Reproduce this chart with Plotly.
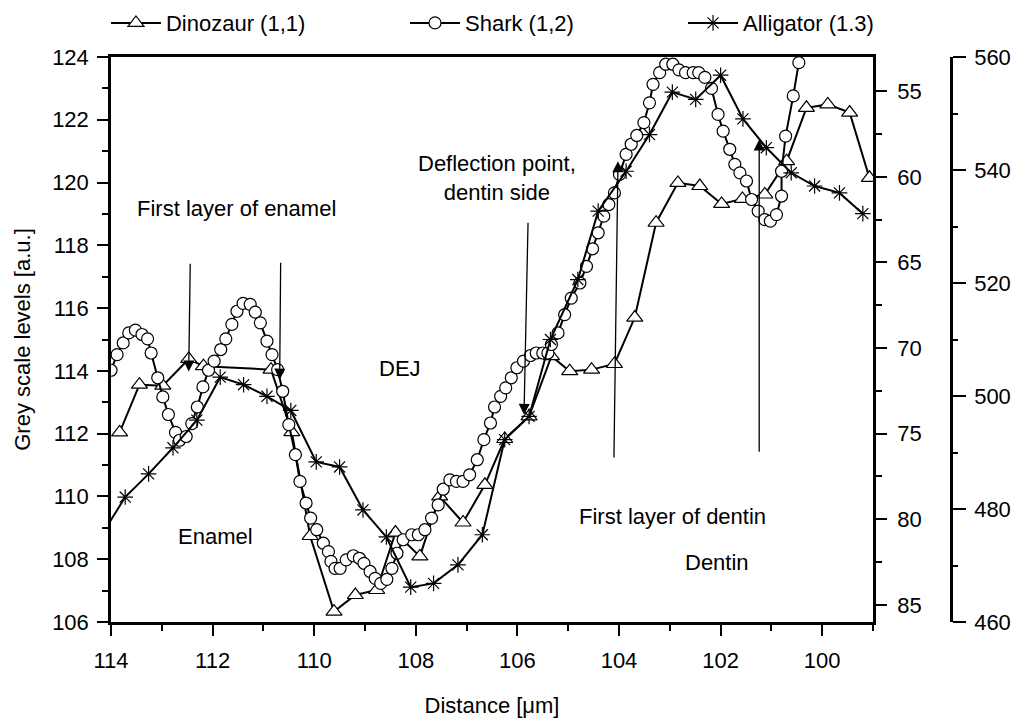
import plotly.graph_objects as go

# ---------------- data ----------------
dino_x = [113.83, 113.44, 112.98, 112.47, 112.18, 110.85, 110.44, 110.08, 109.61, 109.19,
          108.77, 108.40, 107.92, 107.53, 107.07, 106.64, 106.25, 105.77, 105.33, 104.97,
          104.54, 104.09, 103.69, 103.27, 102.84, 102.41, 101.98, 101.57, 101.13, 100.70,
          100.31, 99.89, 99.46, 99.07]
dino_y = [112.04, 113.56, 113.53, 114.38, 114.15, 114.04, 112.05, 108.74, 106.33, 106.86,
          107.02, 108.85, 108.09, 110.00, 109.17, 110.37, 111.83, 112.55, 114.47, 113.99,
          114.04, 114.22, 115.70, 118.72, 119.99, 119.89, 119.32, 119.48, 119.62, 120.68,
          122.38, 122.49, 122.23, 120.15]

shark_x = [114.00, 113.88, 113.76, 113.65, 113.52, 113.39, 113.28, 113.21, 113.08, 112.98,
           112.87, 112.73, 112.65, 112.52, 112.41, 112.30, 112.19, 112.08, 111.97, 111.84,
           111.74, 111.62, 111.52, 111.40, 111.26, 111.16, 111.06, 110.93, 110.83, 110.72,
           110.62, 110.50, 110.37, 110.28, 110.16, 110.07, 109.95, 109.82, 109.72, 109.67,
           109.59, 109.49, 109.37, 109.23, 109.11, 109.02, 108.90, 108.80, 108.69, 108.57,
           108.47, 108.37, 108.25, 108.08, 107.95, 107.82, 107.69, 107.56, 107.46, 107.33,
           107.20, 107.07, 106.94, 106.79, 106.66, 106.53, 106.45, 106.33, 106.23, 106.12,
           106.01, 105.88, 105.74, 105.63, 105.50, 105.40, 105.33, 105.20, 105.07, 104.94,
           104.77, 104.64, 104.52, 104.41, 104.30, 104.20, 104.09, 103.99, 103.86, 103.76,
           103.65, 103.51, 103.40, 103.33, 103.20, 103.08, 102.94, 102.82, 102.69, 102.54,
           102.43, 102.31, 102.18, 102.05, 101.95, 101.82, 101.72, 101.62, 101.49, 101.39,
           101.26, 101.13, 101.02, 100.90, 100.80, 100.80, 100.72, 100.57, 100.46]
shark_y = [114.02, 114.52, 114.89, 115.21, 115.30, 115.16, 115.02, 114.57, 113.78, 113.17,
           112.61, 112.04, 111.79, 111.91, 112.32, 112.85, 113.49, 114.02, 114.31, 114.68,
           115.02, 115.48, 115.90, 116.15, 116.12, 115.87, 115.53, 114.95, 114.52, 114.04,
           113.35, 112.29, 111.33, 110.48, 109.79, 109.31, 108.94, 108.51, 108.24, 107.93,
           107.71, 107.71, 107.98, 108.11, 108.03, 107.87, 107.61, 107.39, 107.23, 107.36,
           107.71, 108.19, 108.62, 108.78, 108.78, 108.94, 109.31, 109.73, 110.23, 110.53,
           110.48, 110.48, 110.69, 111.17, 111.81, 112.34, 112.85, 113.19, 113.46, 113.78,
           114.10, 114.31, 114.49, 114.57, 114.57, 114.57, 114.84, 115.21, 115.79, 116.32,
           116.80, 117.33, 117.89, 118.40, 118.93, 119.30, 119.67, 120.26, 120.90, 121.22,
           121.50, 121.91, 122.54, 123.13, 123.50, 123.77, 123.77, 123.59, 123.50, 123.50,
           123.50, 123.35, 123.00, 122.17, 121.64, 121.06, 120.58, 120.31, 120.05, 119.46,
           119.09, 118.82, 118.77, 118.98, 119.57, 120.36, 121.48, 122.76, 123.82]

alli_x = [114.25, 113.72, 113.26, 112.78, 112.31, 111.85, 111.39, 110.93, 110.46, 109.96,
          109.50, 109.04, 108.58, 108.10, 107.65, 107.17, 106.69, 106.25, 105.77, 105.35,
          104.81, 104.41, 103.86, 103.40, 102.95, 102.49, 102.00, 101.56, 101.10, 100.61,
          100.15, 99.66, 99.20]
alli_y = [108.60, 109.98, 110.72, 111.55, 112.43, 113.80, 113.56, 113.19, 112.74, 111.10,
          110.94, 109.57, 108.71, 107.11, 107.23, 107.82, 108.78, 111.81, 112.55, 115.00,
          116.91, 119.09, 120.36, 121.53, 122.88, 122.65, 123.42, 122.03, 121.11, 120.31,
          119.89, 119.67, 119.01]

series_names = ["Dinozaur (1,1)", "Shark (1,2)", "Alligator (1.3)"]

# axis ranges / ticks
x_range = [114, 99]
y_range = [106, 124]
y2_range = [86, 53]
y3_range = [460, 560]

FONT = "Liberation Sans, Arial, sans-serif"
FS = 22
BLACK = "black"

fig = go.Figure()

fig.add_trace(go.Scatter(
    x=dino_x, y=dino_y, mode="lines+markers", name=series_names[0],
    line=dict(color=BLACK, width=2),
    marker=dict(symbol="triangle-up", size=14, color="white",
                line=dict(color=BLACK, width=1.2)),
    legend="legend"))
fig.add_trace(go.Scatter(
    x=shark_x, y=shark_y, mode="lines+markers", name=series_names[1],
    line=dict(color=BLACK, width=2),
    marker=dict(symbol="circle", size=12, color="white",
                line=dict(color=BLACK, width=1.2)),
    legend="legend2"))
fig.add_trace(go.Scatter(
    x=alli_x, y=alli_y, mode="lines+markers", name=series_names[2],
    line=dict(color=BLACK, width=2),
    marker=dict(symbol="asterisk-open", size=13, color=BLACK,
                line=dict(color=BLACK, width=1.2)),
    legend="legend3"))

# empty traces so the extra y axes are drawn
fig.add_trace(go.Scatter(x=[], y=[], yaxis="y2", showlegend=False, hoverinfo="skip"))
fig.add_trace(go.Scatter(x=[], y=[], yaxis="y3", showlegend=False, hoverinfo="skip"))

axis_common = dict(
    showgrid=False, zeroline=False, showline=True, linecolor=BLACK, linewidth=2.5,
    ticks="outside", tickcolor=BLACK, tickwidth=2, ticklen=11,
    tickfont=dict(family=FONT, size=FS, color=BLACK),
)

dom_right = 762.0 / 840.0

leg_common = dict(orientation="h", y=1.06, xanchor="left", yanchor="middle", itemwidth=50,
                  font=dict(family=FONT, size=FS), bgcolor="rgba(0,0,0,0)")

fig.update_layout(
    width=1022, height=718, autosize=False,
    margin=dict(l=111, r=71, t=57, b=96, autoexpand=False),
    paper_bgcolor="white", plot_bgcolor="white",
    showlegend=True,
    font=dict(family=FONT, size=FS, color=BLACK),
    xaxis=dict(axis_common, range=x_range, domain=[0, dom_right], dtick=2, tick0=0,
               mirror=True, ticklabelstandoff=6,
               minor=dict(dtick=1, ticks="outside", ticklen=6, tickwidth=2, tickcolor=BLACK),
               title=dict(text="Distance [μm]", font=dict(family=FONT, size=FS), standoff=30)),
    yaxis=dict(axis_common, range=y_range, dtick=2, tick0=0, ticklabelstandoff=4,
               minor=dict(dtick=1, ticks="outside", ticklen=6, tickwidth=2, tickcolor=BLACK),
               title=dict(text="Grey scale levels [a.u.]", font=dict(family=FONT, size=FS),
                          standoff=16)),
    yaxis2=dict(axis_common, range=y2_range, overlaying="y", anchor="x", side="right",
                dtick=5, tick0=0, ticklabelstandoff=6,
                minor=dict(dtick=2.5, ticks="outside", ticklen=6, tickwidth=2, tickcolor=BLACK)),
    yaxis3=dict(axis_common, range=y3_range, overlaying="y", anchor="free", position=1.0,
                side="right", dtick=20, tick0=0, ticklen=13, ticklabelstandoff=4,
                minor=dict(dtick=10, ticks="outside", ticklen=5, tickwidth=2, tickcolor=BLACK)),
    legend=dict(leg_common, x=-0.006),
    legend2=dict(leg_common, x=0.35),
    legend3=dict(leg_common, x=0.681),
)

# text labels
labels = [
    ("First layer of enamel", 111.53, 119.17),
    ("DEJ", 108.31, 114.07),
    ("Enamel", 111.95, 108.71),
    ("Deflection point,<br>dentin side", 106.40, 120.13),
    ("First layer of dentin", 102.94, 109.35),
    ("Dentin", 102.08, 107.88),
]
for txt, lx, ly in labels:
    fig.add_annotation(x=lx, y=ly, xref="x", yref="y", text=txt, showarrow=False,
                       font=dict(family=FONT, size=FS, color=BLACK), align="center")

# arrows: (tip_x, tip_y, tail_x, tail_y)
arrows = [
    (112.47, 113.98, 112.44, 117.46),
    (110.68, 113.72, 110.66, 117.49),
    (105.87, 112.60, 105.79, 118.77),
    (104.02, 120.68, 104.10, 111.19),
    (101.24, 121.37, 101.24, 111.38),
]
for tx, ty, sx, sy in arrows:
    fig.add_annotation(x=tx, y=ty, ax=sx, ay=sy, xref="x", yref="y", axref="x", ayref="y",
                       text="", showarrow=True, arrowhead=2, arrowsize=1.7, arrowwidth=1.3,
                       arrowcolor=BLACK, standoff=0)

fig.write_html("out.html")
